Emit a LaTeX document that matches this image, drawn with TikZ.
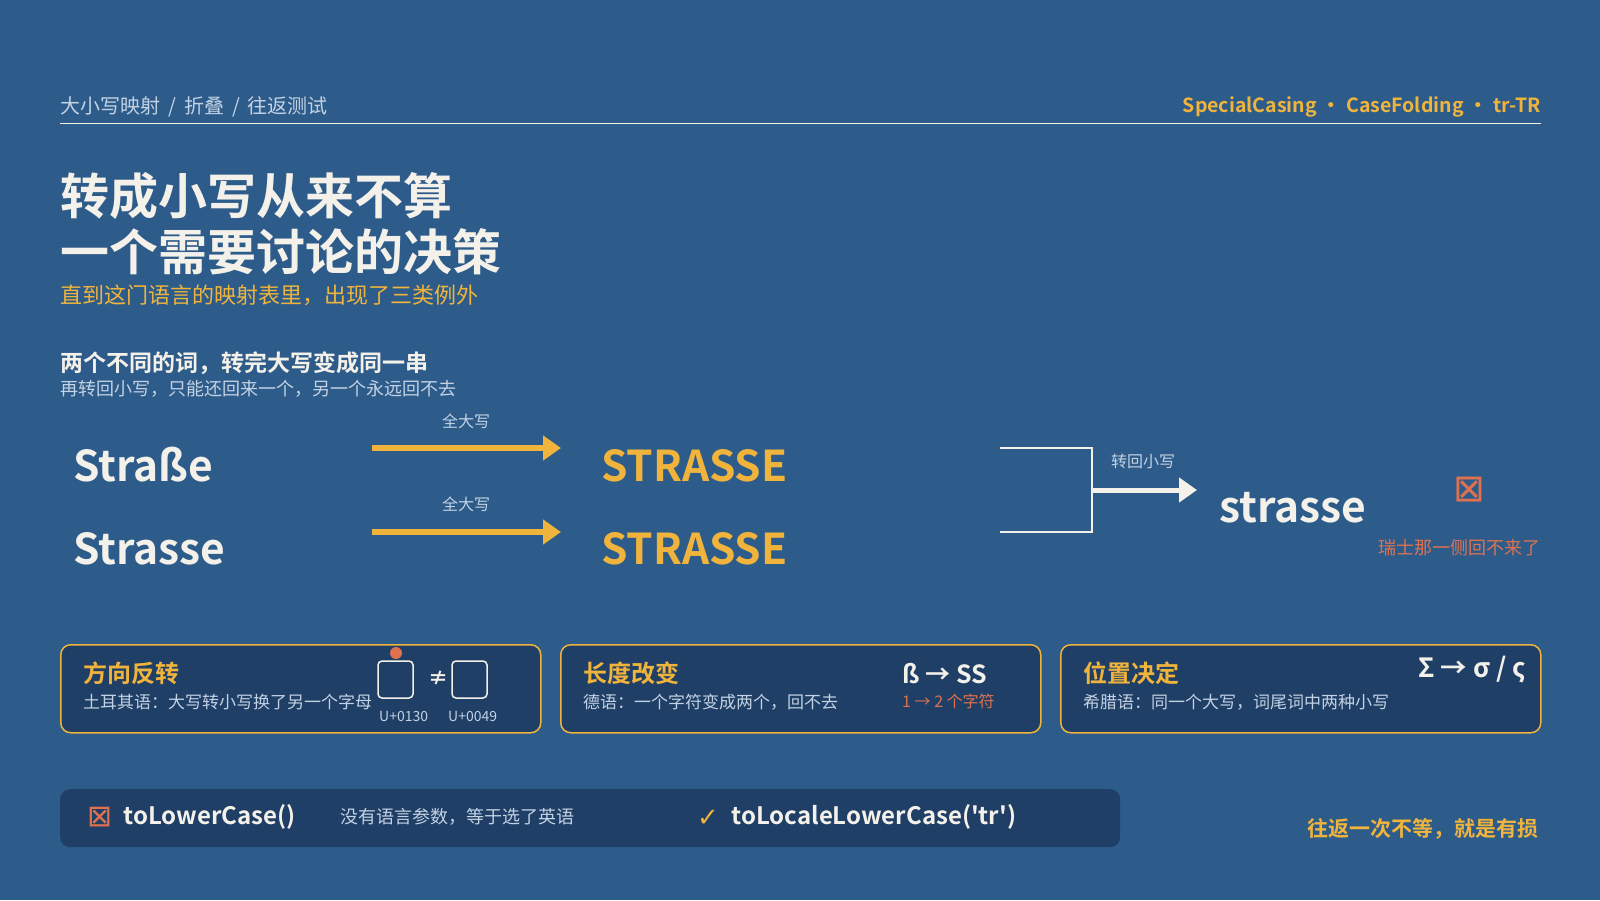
\documentclass[tikz,border=0pt]{standalone}
\usepackage{fontspec}
\setmainfont{Noto Sans CJK SC}[BoldFont={Noto Sans CJK SC Bold}]
\newfontfamily\symfont{DejaVu Sans}
\usetikzlibrary{arrows.meta}
\definecolor{bgblue}{HTML}{2E5C8A}
\definecolor{cardblue}{HTML}{1F3F66}
\definecolor{gold}{HTML}{F0B43C}
\definecolor{rust}{HTML}{E0714F}
\definecolor{cream}{HTML}{F4F1EA}
\definecolor{mist}{HTML}{C3D2E4}
\newcommand{\fsz}[1]{\fontsize{#1}{#1}\selectfont}

\begin{document}
\begin{tikzpicture}[x=1pt,y=-1pt,
    txt/.style={inner sep=0pt, anchor=west},
    card/.style={draw=gold, line width=1.5pt, fill=cardblue, rounded corners=10pt, minimum width=480pt, minimum height=88pt, anchor=north west, inner sep=0pt},
    glyphbox/.style={draw=cream, line width=1.5pt, rounded corners=4pt, minimum width=35pt, minimum height=37pt, inner sep=0pt},
    upcase/.style={gold, line width=5.5pt, -{Triangle[length=18pt,width=24pt]}},
    downcase/.style={cream, line width=5pt, -{Triangle[length=18pt,width=24pt]}}]
    \fill[bgblue] (0,0) rectangle (1600,900);
    \useasboundingbox (0,0) rectangle (1600,900);
    % header
    \node[txt, mist] (crumb) at (60,107) {\fsz{20}大小写映射\hspace{8pt}/\hspace{8pt}折叠\hspace{8pt}/\hspace{8pt}往返测试};
    \node[txt, anchor=east, gold] (tags) at (1541,107) {\fsz{19.5}\bfseries SpecialCasing\hspace{5pt}•\hspace{5pt}CaseFolding\hspace{5pt}•\hspace{5pt}tr-TR};
    \draw[cream, line width=1.2pt] (60,123.5) -- (1541,123.5);
    % title
    \node[txt, cream] (title1) at (60,196) {\fsz{49}\bfseries 转成小写从来不算};
    \node[txt, cream] (title2) at (60,252) {\fsz{49}\bfseries 一个需要讨论的决策};
    \node[txt, gold] (lead) at (60,295) {\fsz{22}直到这门语言的映射表里，出现了三类例外};
    \node[txt, cream] (pairhead) at (60,363) {\fsz{23}\bfseries 两个不同的词，转完大写变成同一串};
    \node[txt, mist] (pairnote) at (60,389) {\fsz{18}再转回小写，只能还回来一个，另一个永远回不去};
    % words
    \node[txt, anchor=base west, cream] (w1) at (73,481) {\fsz{42.5}\bfseries Straße};
    \node[txt, anchor=base west, cream] (w2) at (73,564) {\fsz{42.5}\bfseries Strasse};
    \node[txt, anchor=base west, gold] (up1) at (601,481) {\fsz{42.5}\bfseries STRASSE};
    \node[txt, anchor=base west, gold] (up2) at (601,564) {\fsz{42.5}\bfseries STRASSE};
    \coordinate (a1s) at (372,448);
    \coordinate (a1e) at (561,448);
    \coordinate (a2s) at (372,532);
    \coordinate (a2e) at (561,532);
    \draw[upcase] (a1s) -- (a1e);
    \draw[upcase] (a2s) -- (a2e);
    \node[mist] (lab1) at (466,421) {\fsz{16}全大写};
    \node[mist] (lab2) at (466,504) {\fsz{16}全大写};
    % bracket
    \coordinate (bk1) at (1000,448);
    \coordinate (bk2) at (1092,448);
    \coordinate (bk3) at (1092,532);
    \coordinate (bk4) at (1000,532);
    \coordinate (bkm) at (1092,490);
    \coordinate (bke) at (1197,490);
    \draw[cream, line width=1.2pt] (bk1) -- (bk2) -- (bk3) -- (bk4);
    \draw[downcase] (bkm) -- (bke);
    \node[mist] (lab3) at (1143,461) {\fsz{16}转回小写};
    \node[txt, anchor=base west, cream] (low) at (1219,522) {\fsz{42.5}\bfseries strasse};
    \node[rust] (lost) at (1469,490) {\symfont\fsz{38}⊠};
    \node[txt, anchor=east, rust] (lostnote) at (1541,548) {\fsz{18}瑞士那一侧回不来了};
    % cards
    \node[card] (c1) at (60,644) {};
    \node[card] (c2) at (560,644) {};
    \node[card] (c3) at (1060,644) {};
    \node[txt, gold] (c1t) at (83,673) {\fsz{24}\bfseries 方向反转};
    \node[txt, mist] (c1s) at (83,702) {\fsz{17}土耳其语：大写转小写换了另一个字母};
    \node[glyphbox] (dotI) at (395.5,679.5) {};
    \node[glyphbox] (plainI) at (469.5,679.5) {};
    \node[circle, fill=rust, minimum size=12pt, inner sep=0pt] (dot) at (396,653) {};
    \node[cream] (neq) at (438,678) {\fsz{20}\bfseries ≠};
    \node[txt, mist] (cp1) at (379,716) {\fsz{14}U+0130};
    \node[txt, mist] (cp2) at (448,716) {\fsz{14}U+0049};
    \node[txt, gold] (c2t) at (583,673) {\fsz{24}\bfseries 长度改变};
    \node[txt, mist] (c2s) at (583,702) {\fsz{17}德语：一个字符变成两个，回不去};
    \node[txt, cream] (sharp) at (902,674) {\fsz{25}\bfseries ß → SS};
    \node[txt, rust] (count) at (902,701) {\fsz{16}1 → 2 个字符};
    \node[txt, gold] (c3t) at (1083,673) {\fsz{24}\bfseries 位置决定};
    \node[txt, mist] (c3s) at (1083,702) {\fsz{17}希腊语：同一个大写，词尾词中两种小写};
    \node[txt, anchor=east, cream] (sigma) at (1526,670) {\fsz{26.5}\bfseries Σ → σ / ς};
    % bottom bar
    \node[fill=cardblue, rounded corners=10pt, minimum width=1060pt, minimum height=58pt, anchor=north west, inner sep=0pt] (bar) at (60,789) {};
    \node[rust] (bad) at (100,817) {\symfont\fsz{30}⊠};
    \node[txt, cream] (badcall) at (123.5,817) {\fsz{24}\bfseries toLowerCase()};
    \node[txt, mist] (badnote) at (340,817) {\fsz{18}没有语言参数，等于选了英语};
    \node[gold] (good) at (708,818) {\symfont\fsz{26}✓};
    \node[txt, cream] (goodcall) at (731.5,817) {\fsz{24}\bfseries toLocaleLowerCase(\textquotesingle tr\textquotesingle)};
    \node[txt, anchor=east, gold] (moral) at (1539,829) {\fsz{21}\bfseries 往返一次不等，就是有损};
\end{tikzpicture}
\end{document}
